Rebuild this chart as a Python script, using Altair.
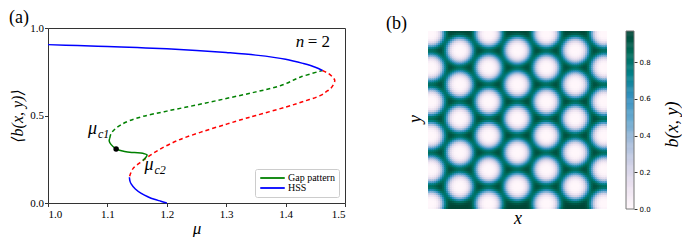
import altair as alt
import numpy as np
import pandas as pd

SERIF = "Liberation Serif, Times New Roman, DejaVu Serif, serif"

# ---------------- panel (a): bifurcation diagram ----------------
hss_upper_mu = [1.0, 1.05, 1.1, 1.15, 1.2, 1.25, 1.3, 1.35, 1.4, 1.43, 1.45, 1.462]
hss_upper_b = [0.905, 0.900, 0.894, 0.888, 0.881, 0.872, 0.860, 0.845, 0.822, 0.797, 0.776, 0.757]

hss_lower_mu = [1.137, 1.138, 1.140, 1.147, 1.157, 1.168, 1.179, 1.190, 1.200]
hss_lower_b = [0.147, 0.125, 0.109, 0.080, 0.055, 0.036, 0.021, 0.010, 0.000]

hss_unstable_mu = [1.462, 1.472, 1.478, 1.4815, 1.4828, 1.481, 1.476, 1.468, 1.459, 1.43,
                   1.40, 1.35, 1.33, 1.302, 1.2575, 1.218, 1.1848, 1.1596, 1.1428, 1.137]
hss_unstable_b = [0.757, 0.740, 0.724, 0.710, 0.700, 0.680, 0.655, 0.635, 0.615, 0.580,
                  0.548, 0.500, 0.481, 0.452, 0.405, 0.357, 0.300, 0.242, 0.195, 0.147]

gap_stable_mu = [1.104, 1.103, 1.106, 1.1147, 1.129, 1.1455, 1.1596, 1.1668, 1.165, 1.1596]
gap_stable_b = [0.370, 0.355, 0.335, 0.309, 0.294, 0.288, 0.284, 0.275, 0.262, 0.242]

gap_unstable_mu = [1.104, 1.106, 1.112, 1.122, 1.137, 1.16, 1.2, 1.25, 1.3, 1.35, 1.392, 1.4255, 1.462]
gap_unstable_b = [0.370, 0.395, 0.420, 0.445, 0.470, 0.495, 0.525, 0.560, 0.597, 0.635, 0.671, 0.720, 0.757]

point_mu = [1.1147]
point_b = [0.309]

label_mu = [1.0672, 1.1623]
label_b = [0.395, 0.189]
label_main = ["μ", "μ"]
label_sub = ["c1", "c2"]

n_label_mu = [1.417]
n_label_b = [0.891]

legend_names = ["Gap pattern", "HSS"]
legend_colors = ["#008000", "#0000ff"]


def seg(mu, b, series, name):
    return pd.DataFrame({"mu": mu, "b": b, "series": series, "seg": name,
                         "idx": list(range(len(mu)))})


solid_df = pd.concat([
    seg(gap_stable_mu, gap_stable_b, "Gap pattern", "gs"),
    seg(hss_upper_mu, hss_upper_b, "HSS", "hu"),
    seg(hss_lower_mu, hss_lower_b, "HSS", "hl"),
])
red_df = seg(hss_unstable_mu, hss_unstable_b, "HSS unstable", "hr")
gdash_df = seg(gap_unstable_mu, gap_unstable_b, "Gap unstable", "gd")
pt_df = pd.DataFrame({"mu": point_mu, "b": point_b})
lab_df = pd.DataFrame({"mu": label_mu, "b": label_b, "main": label_main, "sub": label_sub})
n_df = pd.DataFrame({"mu": n_label_mu, "b": n_label_b})

xs = alt.Scale(domain=[1.0, 1.5], nice=False, zero=False)
ys = alt.Scale(domain=[0.0, 1.0], nice=False, zero=False)

x_enc = alt.X("mu:Q", scale=xs, axis=alt.Axis(
    values=[1.0, 1.1, 1.2, 1.3, 1.4, 1.5], format=".1f", title="μ",
    titleFontStyle="italic", titleFontSize=17, titlePadding=1, labelFontSize=11,
    tickSize=3.5, labelPadding=2, domain=False, labelFont=SERIF, titleFont=SERIF))
y_enc = alt.Y("b:Q", scale=ys, axis=alt.Axis(
    values=[0.0, 0.5, 1.0], format=".1f", title="⟨b(x, y)⟩",
    titleFontStyle="italic", titleFontSize=16, titleX=-31, titleY=87.5,
    titleAngle=270, titleBaseline="middle", titleAlign="center", labelFontSize=11,
    tickSize=3.5, labelPadding=1, domain=False, labelFont=SERIF, titleFont=SERIF))

red_layer = alt.Chart(red_df).mark_line(
    color="#ff0000", strokeDash=[4, 3], strokeWidth=1.5, interpolate="catmull-rom"
).encode(x=x_enc, y=y_enc, order="idx:Q")

gdash_layer = alt.Chart(gdash_df).mark_line(
    color="#008000", strokeDash=[4, 3], strokeWidth=1.5, interpolate="catmull-rom"
).encode(x=x_enc, y=y_enc, order="idx:Q")

solid_layer = alt.Chart(solid_df).mark_line(
    strokeWidth=1.5, interpolate="catmull-rom"
).encode(
    x=x_enc, y=y_enc, order="idx:Q", detail="seg:N",
    color=alt.Color("series:N", scale=alt.Scale(domain=legend_names, range=legend_colors),
                    legend=alt.Legend(title=None, orient="bottom-right", offset=6,
                                      fillColor="white", strokeColor="#cccccc",
                                      padding=4, cornerRadius=2, symbolType="stroke",
                                      symbolSize=600, symbolStrokeWidth=1.8, clipHeight=10,
                                      labelFont=SERIF, labelFontSize=10, rowPadding=0,
                                      labelOffset=2, labelColor="black")),
)

pt_layer = alt.Chart(pt_df).mark_circle(color="black", size=30, opacity=1).encode(x=x_enc, y=y_enc)

lab_main_layer = alt.Chart(lab_df).mark_text(
    align="left", baseline="alphabetic", font=SERIF, fontStyle="italic", fontSize=18, color="black"
).encode(x=x_enc, y=y_enc, text="main:N")
lab_sub_layer = alt.Chart(lab_df).mark_text(
    align="left", baseline="alphabetic", font=SERIF, fontStyle="italic", fontSize=12,
    dx=10, dy=4, color="black"
).encode(x=x_enc, y=y_enc, text="sub:N")

n_layer1 = alt.Chart(n_df).mark_text(
    align="left", baseline="alphabetic", font=SERIF, fontStyle="italic", fontSize=17, color="black"
).encode(x=x_enc, y=y_enc, text=alt.value("n"))
n_layer2 = alt.Chart(n_df).mark_text(
    align="left", baseline="alphabetic", font=SERIF, fontSize=17, dx=12, color="black"
).encode(x=x_enc, y=y_enc, text=alt.value("= 2"))

panel_a = alt.layer(
    red_layer, gdash_layer, solid_layer, pt_layer,
    lab_main_layer, lab_sub_layer, n_layer1, n_layer2
).properties(
    width=297, height=175,
    title=alt.TitleParams("(a)", anchor="start", frame="group", dx=-39, offset=-5,
                          font=SERIF, fontSize=18, fontWeight="normal", color="black"),
    view=alt.ViewBackground(stroke="#333333", strokeWidth=1),
)

# ---------------- panel (b): hexagonal pattern ----------------
col_a_x = [0.176, 0.499, 0.822]
row_a_y = [0.110, 0.301, 0.492, 0.683, 0.874]
col_b_x = [0.015, 0.338, 0.661, 0.984]
row_b_y = [0.015, 0.206, 0.397, 0.588, 0.779, 0.970]
spot_r0 = 0.075
b_max = 0.97
N = 90

HEAT_H = 178      # image height in px
TOP_GAP = 3       # the image starts a little below panel (a)'s frame
VIEW_H = HEAT_H + TOP_GAP

# PuBuGn colour map stops
cmap_colors = ["#fff7fb", "#ece2f0", "#d0d1e6", "#a6bddb", "#67a9cf",
               "#3690c0", "#02818a", "#016c59", "#014636"]
cmap_domain = [b_max * i / (len(cmap_colors) - 1) for i in range(len(cmap_colors))]

cx = []
cy = []
for xa in col_a_x:
    for ya in row_a_y:
        cx.append(xa); cy.append(ya)
for xb in col_b_x:
    for yb in row_b_y:
        cx.append(xb); cy.append(yb)
cx = np.array(cx); cy = np.array(cy)

g = (np.arange(N) + 0.5) / N
GX, GY = np.meshgrid(g, g)
field = np.ones_like(GX)
for sx, sy in zip(cx, cy):
    r = np.sqrt((GX - sx) ** 2 + (GY - sy) ** 2)
    field *= 1.0 - np.exp(-(r / spot_r0) ** 4)
field *= b_max

step = 1.0 / N
heat_df = pd.DataFrame({
    "x": (GX - 0.5 * step).ravel(),
    "y": (GY - 0.5 * step).ravel(),
    "v": field.ravel(),
})
heat_df["x2"] = heat_df["x"] + 1.5 * step
heat_df["y2"] = np.minimum(heat_df["y"] + 1.5 * step, 1.0)

cscale = alt.Scale(domain=cmap_domain, range=cmap_colors, interpolate="rgb")

heat = alt.Chart(heat_df).mark_rect(clip=True, strokeWidth=0, opacity=1).encode(
    x=alt.X("x:Q", scale=alt.Scale(domain=[0, 1], nice=False, zero=False),
            axis=alt.Axis(title="x", labels=False, ticks=False, domain=False, grid=False,
                          titleFontStyle="italic", titleFontSize=18, titlePadding=0,
                          titleFont=SERIF)),
    x2="x2:Q",
    y=alt.Y("y:Q", scale=alt.Scale(domain=[-TOP_GAP / HEAT_H, 1], nice=False, zero=False, reverse=True),
            axis=alt.Axis(title="y", labels=False, ticks=False, domain=False, grid=False,
                          titleFontStyle="italic", titleFontSize=18, titlePadding=4,
                          titleFont=SERIF)),
    y2="y2:Q",
    color=alt.Color("v:Q", scale=cscale, legend=None),
).properties(
    width=179, height=VIEW_H,
    title=alt.TitleParams("(b)", anchor="start", frame="group", dx=-42, offset=-5,
                          font=SERIF, fontSize=18, fontWeight="normal", color="black"),
)

cb_top = b_max * VIEW_H / HEAT_H
cb_vals = np.arange(0, b_max, 0.005)
cb_df = pd.DataFrame({"v": cb_vals, "v2": np.minimum(cb_vals + 0.0075, b_max)})
cb_y = alt.Y("v:Q", scale=alt.Scale(domain=[0, cb_top], nice=False, zero=False),
             axis=alt.Axis(orient="right", values=[0, 0.2, 0.4, 0.6, 0.8], format=".1f",
                           labelFont="DejaVu Sans", labelFontSize=7, tickSize=3,
                           labelPadding=2, domain=False, grid=False,
                           title="b(x, y)", titleFontStyle="italic", titleFontSize=18,
                           titleFont=SERIF,
                           titleAngle=270, titleBaseline="top", titlePadding=13,
                           titleY=96))
cb_ramp = alt.Chart(cb_df).mark_rect(strokeWidth=0, opacity=1).encode(
    x=alt.value(0), x2=alt.value(8), y=cb_y, y2="v2:Q",
    color=alt.Color("v:Q", scale=cscale, legend=None),
)
cb_frame_df = pd.DataFrame({"v": [0.0], "v2": [b_max]})
cb_frame = alt.Chart(cb_frame_df).mark_rect(
    fillOpacity=0, stroke="#777777", strokeWidth=1
).encode(x=alt.value(0), x2=alt.value(8), y=cb_y, y2="v2:Q")
cbar = alt.layer(cb_ramp, cb_frame).properties(width=8, height=VIEW_H)

panel_b = alt.hconcat(heat, cbar, spacing=19, bounds="flush")

chart = alt.hconcat(panel_a, panel_b, spacing=40).resolve_scale(color="independent").properties(
    padding=0
).configure(font=SERIF).configure_axis(
    labelColor="black", titleColor="black",
    tickColor="#333333", grid=False, titleFontWeight="normal"
).configure_view(stroke=None)

chart.save("out.html", embed_options={"renderer": "svg", "actions": False})
